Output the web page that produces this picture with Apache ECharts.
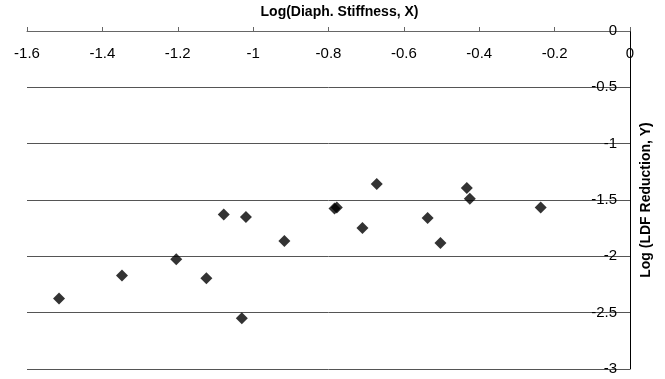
<!DOCTYPE html>
<html>
<head>
<meta charset="utf-8">
<script src="https://cdn.jsdelivr.net/npm/echarts@6/dist/echarts.min.js"></script>
<style>
  html, body { margin: 0; padding: 0; background: #fff; }
  #chart { width: 665px; height: 379px; }
</style>
</head>
<body>
<div id="chart"></div>
<script>
// log of diaphragm stiffness (x) and log of LDF reduction (y)
const stiffnessLog = [
  -1.515, -1.348, -1.204, -1.124, -1.078, -1.019, -1.030, -0.917, -0.784,
  -0.778, -0.672, -0.710, -0.537, -0.503, -0.433, -0.425, -0.237,
];
const reductionLog = [
  -2.374, -2.170, -2.026, -2.194, -1.629, -1.651, -2.549, -1.863, -1.576,
  -1.567, -1.358, -1.748, -1.660, -1.881, -1.394, -1.488, -1.567,
];

const xName = "Log(Diaph. Stiffness, X)";
const yName = "Log (LDF Reduction, Y)";
const font = "Liberation Sans, Arial, sans-serif";

const chart = echarts.init(document.getElementById("chart"), null, { renderer: "canvas" });

chart.setOption({
  animation: false,
  grid: { left: 27, right: 35, top: 31, bottom: 10, outerBoundsMode: "none", containLabel: false },
  xAxis: {
    type: "value",
    position: "top",
    min: -1.6,
    max: 0,
    interval: 0.2,
    name: xName,
    nameLocation: "middle",
    nameGap: 12,
    nameTextStyle: {
      fontFamily: font,
      fontWeight: "bold",
      fontSize: 14,
      color: "#000",
      padding: [0, 0, 0, 22],
    },
    axisLine: { onZero: false, lineStyle: { color: "#666", width: 1 } },
    axisTick: { show: true, inside: false, length: 4, lineStyle: { color: "#666" } },
    axisLabel: {
      inside: true,
      margin: 15,
      fontFamily: font,
      fontSize: 15,
      color: "#000",
      formatter: (v) => String(Math.round(v * 10) / 10),
    },
    splitLine: { show: false },
  },
  yAxis: {
    type: "value",
    position: "right",
    min: -3,
    max: 0,
    interval: 0.5,
    name: yName,
    nameLocation: "middle",
    nameRotate: 90,
    nameGap: 8,
    nameTextStyle: { fontFamily: font, fontWeight: "bold", fontSize: 14, color: "#000" },
    axisLine: { onZero: false, lineStyle: { color: "#000", width: 1 } },
    axisTick: { show: false },
    axisLabel: {
      inside: true,
      margin: 13,
      fontFamily: font,
      fontSize: 15,
      color: "#000",
      formatter: (v) => String(v),
    },
    splitLine: { show: true, lineStyle: { color: "#555", width: 1 } },
  },
  series: [
    {
      type: "scatter",
      symbol: "diamond",
      symbolSize: 12,
      itemStyle: { color: "#000" },
      data: stiffnessLog.map((x, i) => [x, reductionLog[i]]),
    },
  ],
});
</script>
</body>
</html>
